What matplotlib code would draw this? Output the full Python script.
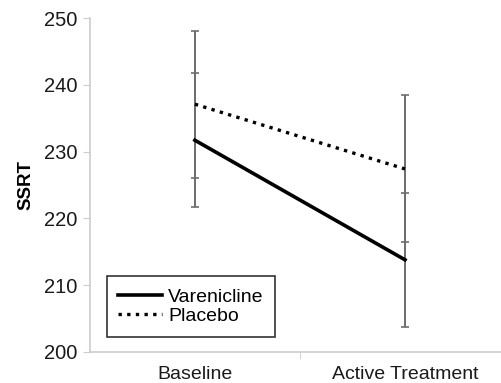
import numpy as np
import matplotlib.pyplot as plt

plt.rcParams['font.family'] = ['Liberation Sans', 'DejaVu Sans']

# --- Datos ---
fases = ['Baseline', 'Active Treatment']
vareniclina = [231.7, 213.8]
vareniclina_err = [10.0, 10.0]
placebo = [237.1, 227.4]
placebo_err = [11.0, 11.0]

fig = plt.figure(figsize=(5.02, 3.83), dpi=100)
ax = fig.add_axes([0.179, 0.081, 0.837, 0.872])

x = np.arange(len(fases))
gris = '#6e6e6e'

ax.errorbar(x, placebo, yerr=placebo_err, fmt='none', ecolor=gris,
            elinewidth=1.4, capsize=3, capthick=1.2, zorder=1)
ax.errorbar(x, vareniclina, yerr=vareniclina_err, fmt='none', ecolor=gris,
            elinewidth=1.4, capsize=3, capthick=1.2, zorder=1)
ax.plot(x, vareniclina, color='black', lw=2.6, label='Varenicline', zorder=3)
ax.plot(x, placebo, color='black', lw=2.4, ls=(0, (1, 1.6)), label='Placebo', zorder=3)

ax.set_xlim(-0.5, 1.5)
ax.set_ylim(200, 250)
ax.set_yticks(np.arange(200, 251, 10))
ax.set_xticks(x)
ax.set_xticklabels(fases)
ax.set_xticks([0.5], minor=True)
ax.tick_params(axis='x', which='major', length=0, labelsize=14, pad=10)
ax.tick_params(axis='x', which='minor', length=5, color='#cccccc', direction='out')
ax.tick_params(axis='y', length=5, color='#cccccc', labelsize=14.5, pad=4, labelcolor='#1a1a1a')
ax.tick_params(axis='x', labelcolor='#1a1a1a')

for s in ['top', 'right']:
    ax.spines[s].set_visible(False)
for s in ['left', 'bottom']:
    ax.spines[s].set_color('#cccccc')
    ax.spines[s].set_linewidth(1.2)

ax.set_ylabel('SSRT', fontsize=13.5, fontweight='bold', labelpad=7)

leg = ax.legend(loc='lower left', bbox_to_anchor=(0.04, 0.045), fontsize=14,
                frameon=True, fancybox=False, edgecolor='black',
                handlelength=2.25, handletextpad=0.3, borderpad=0.6, labelspacing=0.1,
                borderaxespad=0)
leg.get_frame().set_linewidth(1.2)

fig.savefig('out.png', dpi=100)
